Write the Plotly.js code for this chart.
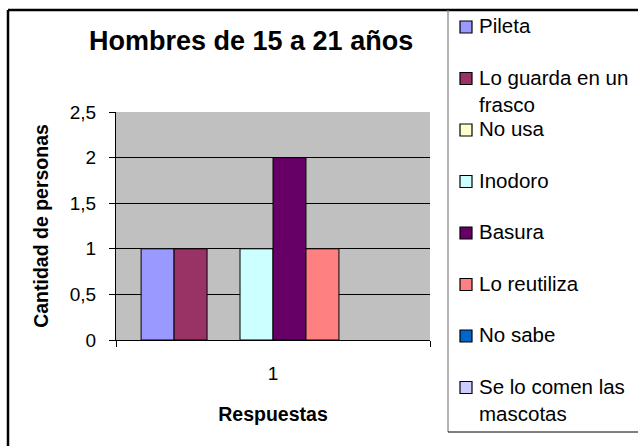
<!DOCTYPE html>
<html>
<head>
<meta charset="utf-8">
<script src="https://cdn.plot.ly/plotly-3.0.1.min.js"></script>
<style>html,body{margin:0;padding:0;background:#fff;}#chart{width:638px;height:446px;}</style>
</head>
<body>
<div id="chart"></div>
<script>
// ---- data ----
const categories = ["1"];
const seriesNames = ["Pileta", "Lo guarda en un frasco", "No usa", "Inodoro", "Basura", "Lo reutiliza", "No sabe", "Se lo comen las mascotas"];
const legendLabels = ["Pileta", "Lo guarda en un<br>frasco", "No usa", "Inodoro", "Basura", "Lo reutiliza", "No sabe", "Se lo comen las<br>mascotas"];
const seriesValues = [[1], [1], [0], [1], [2], [1], [0], [0]];
const seriesColors = ["#9999FF", "#993366", "#FFFFCC", "#CCFFFF", "#660066", "#FF8080", "#0066CC", "#CCCCFF"];
const chartTitle = "Hombres de 15 a 21 años";
const xTitle = "Respuestas";
const yTitle = "Cantidad de personas";

// ---- layout helpers (pixel -> paper) ----
const W = 638, H = 446;
const px = x => x / W;
const py = y => 1 - y / H;
const FONT = "Arial, 'Liberation Sans', sans-serif";

const traces = seriesNames.map((name, i) => ({
  type: "bar",
  name: name,
  x: categories,
  y: seriesValues[i],
  marker: { color: seriesColors[i], line: { color: "#000", width: seriesValues[i].map(v => v > 0 ? 1 : 0) } },
  showlegend: false,
  hoverinfo: "name+y"
}));

const shapes = [
  // outer chart border (top + left visible)
  { type: "line", xref: "paper", yref: "paper", x0: px(8), x1: px(660), y0: py(10), y1: py(10), line: { color: "#000", width: 2.5 } },
  { type: "line", xref: "paper", yref: "paper", x0: px(8), x1: px(8), y0: py(10), y1: py(470), line: { color: "#000", width: 2.5 } },
  // legend box
  { type: "line", xref: "paper", yref: "paper", x0: px(448), x1: px(448), y0: py(10), y1: py(432), line: { color: "#808080", width: 1.2 } },
  { type: "line", xref: "paper", yref: "paper", x0: px(448), x1: px(660), y0: py(432), y1: py(432), line: { color: "#000", width: 1 } }
];
const annotations = [
  { text: "<b>" + chartTitle + "</b>", xref: "paper", yref: "paper", x: px(251), y: py(41), xanchor: "center", yanchor: "middle", showarrow: false, font: { family: FONT, size: 27, color: "#000" } }
];
const legendTop = 27, legendStep = 51.5;
legendLabels.forEach((lab, i) => {
  const yc = legendTop + legendStep * i;
  shapes.push({ type: "rect", xref: "paper", yref: "paper", x0: px(460), x1: px(472), y0: py(yc - 6), y1: py(yc + 6), fillcolor: seriesColors[i], line: { color: "#000", width: 1.2 } });
  annotations.push({ text: lab, xref: "paper", yref: "paper", x: px(477), y: py(yc - 15), xanchor: "left", yanchor: "top", align: "left", showarrow: false, font: { family: FONT, size: 20.5, color: "#000" } });
});

const layout = {
  width: W, height: H,
  margin: { l: 0, r: 0, t: 0, b: 0 },
  paper_bgcolor: "#fff",
  plot_bgcolor: "#C0C0C0",
  separators: ",.",
  font: { family: FONT, color: "#000" },
  barmode: "group",
  bargap: 0.16,
  bargroupgap: 0,
  showlegend: false,
  xaxis: {
    domain: [px(116), px(430)],
    type: "category",
    showline: true, linecolor: "#000", linewidth: 1,
    ticks: "outside", tickson: "boundaries", ticklen: 6, tickcolor: "#000",
    showgrid: false, zeroline: false,
    tickfont: { family: FONT, size: 19 },
    ticklabelstandoff: 16,
    title: { text: "<b>" + xTitle + "</b>", font: { family: FONT, size: 19.5 }, standoff: 24 },
    automargin: false
  },
  yaxis: {
    domain: [py(340), py(112)],
    range: [0, 2.5], dtick: 0.5,
    showline: true, linecolor: "#000", linewidth: 1,
    ticks: "outside", ticklen: 6, tickcolor: "#000",
    showgrid: true, gridcolor: "#000", gridwidth: 1,
    zeroline: false,
    tickfont: { family: FONT, size: 19 },
    ticklabelstandoff: 9,
    title: { text: "<b>" + yTitle + "</b>", font: { family: FONT, size: 19.5 }, standoff: 15 },
    automargin: false
  },
  shapes: shapes,
  annotations: annotations
};

Plotly.newPlot("chart", traces, layout, { staticPlot: true, displayModeBar: false });
</script>
</body>
</html>
